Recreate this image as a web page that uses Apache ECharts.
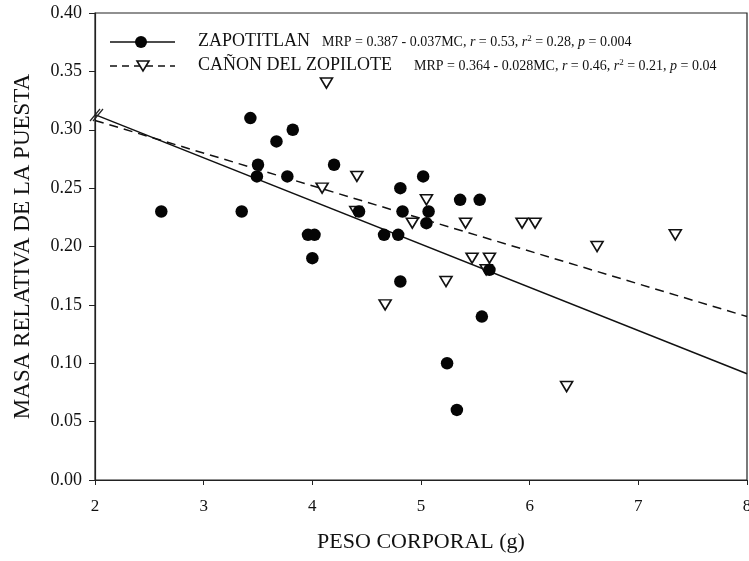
<!DOCTYPE html>
<html>
<head>
<meta charset="utf-8">
<script src="https://cdn.jsdelivr.net/npm/echarts@6/dist/echarts.min.js"></script>
<style>
  html, body { margin: 0; padding: 0; background: #fff; }
  #chart { width: 749px; height: 561px; }
</style>
</head>
<body>
<div id="chart"></div>
<script>
// ---- data ----
var zapX = [2.61, 3.35, 3.43, 3.49, 3.50, 3.67, 3.77, 3.82, 3.96, 4.02, 4.00, 4.20, 4.43, 4.66, 4.79, 4.81, 4.83, 4.81, 5.02, 5.07, 5.05, 5.36, 5.54, 5.63, 5.56, 5.24, 5.33];
var zapY = [0.23, 0.23, 0.31, 0.26, 0.27, 0.29, 0.26, 0.30, 0.21, 0.21, 0.19, 0.27, 0.23, 0.21, 0.21, 0.25, 0.23, 0.17, 0.26, 0.23, 0.22, 0.24, 0.24, 0.18, 0.14, 0.10, 0.06];
var canX = [4.13, 4.09, 4.41, 4.40, 4.92, 5.05, 5.41, 5.93, 6.05, 5.47, 5.63, 5.60, 5.23, 4.67, 6.62, 7.34, 6.34];
var canY = [0.34, 0.25, 0.26, 0.23, 0.22, 0.24, 0.22, 0.22, 0.22, 0.19, 0.19, 0.18, 0.17, 0.15, 0.20, 0.21, 0.08];
var fitX = [2, 8];
var zapFitY = [0.313, 0.091];
var canFitY = [0.308, 0.140];
var xTicks = [2, 3, 4, 5, 6, 7, 8];
var yTicks = ['0.00', '0.05', '0.10', '0.15', '0.20', '0.25', '0.30', '0.35', '0.40'];
var zapName = 'ZAPOTITLAN';
var canName = 'CAÑON DEL ZOPILOTE';
var zapEq = ['MRP = 0.387 - 0.037MC, ', '0.53', '0.28', '0.004'];
var canEq = ['MRP = 0.364 - 0.028MC, ', '0.46', '0.21', '0.04'];

function pairs(xs, ys) { return xs.map(function (x, i) { return [x, ys[i]]; }); }

var serif = '"Liberation Serif", "DejaVu Serif", serif';

function eqRich(eq) {
  return '{e|' + eq[0] + '}{i|r}{e| = ' + eq[1] + ', }{i|r}{s|2}{e| = ' + eq[2] + ', }{i|p}{e| = ' + eq[3] + '}';
}
var eqStyles = {
  e: { fontFamily: serif, fontSize: 14, fill: '#111' },
  i: { fontFamily: serif, fontSize: 14, fontStyle: 'italic', fill: '#111' },
  s: { fontFamily: serif, fontSize: 9, fill: '#111', verticalAlign: 'top', padding: [0, 0, 7, 0] }
};

var chart = echarts.init(document.getElementById('chart'), null, { renderer: 'canvas' });
chart.setOption({
  animation: false,
  backgroundColor: '#fff',
  grid: { left: 95, right: 2, top: 13, bottom: 81, outerBoundsMode: 'none', containLabel: false,
    show: true, borderColor: '#222', borderWidth: 1.2, backgroundColor: 'transparent' },
  xAxis: {
    type: 'value', min: xTicks[0], max: xTicks[xTicks.length - 1], interval: 1,
    name: 'PESO CORPORAL (g)', nameLocation: 'middle', nameGap: 51,
    nameTextStyle: { fontFamily: serif, fontSize: 22, color: '#111' },
    axisLine: { show: true, lineStyle: { color: '#222', width: 1.2 } },
    axisTick: { show: true, length: 5, inside: false, lineStyle: { color: '#222' } },
    axisLabel: { fontFamily: serif, fontSize: 17, color: '#111', margin: 18 },
    splitLine: { show: false }
  },
  yAxis: {
    type: 'value', min: 0, max: 0.4, interval: 0.05,
    name: 'MASA RELATIVA DE LA PUESTA', nameLocation: 'middle', nameGap: 61, nameRotate: 90,
    nameTextStyle: { fontFamily: serif, fontSize: 23, color: '#111' },
    axisLine: { show: true, lineStyle: { color: '#222', width: 1.2 } },
    axisTick: { show: true, length: 6, inside: false, lineStyle: { color: '#222' } },
    axisLabel: { fontFamily: serif, fontSize: 18, color: '#111', margin: 13,
      formatter: function (v) { return yTicks[Math.round(v / 0.05)]; } },
    splitLine: { show: false }
  },
  series: [
    { type: 'line', name: zapName + ' fit', data: pairs(fitX, zapFitY), showSymbol: false, symbol: 'none',
      lineStyle: { color: '#111', width: 1.5, type: 'solid' }, z: 2, silent: true },
    { type: 'line', name: canName + ' fit', data: pairs(fitX, canFitY), showSymbol: false, symbol: 'none',
      lineStyle: { color: '#111', width: 1.5, type: [9, 6] }, z: 2, silent: true },
    { type: 'scatter', name: canName, data: pairs(canX, canY), symbol: 'triangle', symbolRotate: 180,
      symbolSize: [12, 10], itemStyle: { color: '#fff', borderColor: '#111', borderWidth: 1.6, opacity: 1 }, z: 3 },
    { type: 'scatter', name: zapName, data: pairs(zapX, zapY), symbol: 'circle', symbolSize: 12.5,
      itemStyle: { color: '#050505', opacity: 1 }, z: 4 }
  ],
  graphic: [
    // axis break mark on y axis
    { type: 'line', shape: { x1: 90, y1: 121, x2: 100, y2: 109 }, style: { stroke: '#222', lineWidth: 1.2 }, z: 10 },
    { type: 'line', shape: { x1: 93, y1: 121, x2: 103, y2: 109 }, style: { stroke: '#222', lineWidth: 1.2 }, z: 10 },
    // legend row 1
    { type: 'line', shape: { x1: 110, y1: 42, x2: 175, y2: 42 }, style: { stroke: '#111', lineWidth: 1.5 }, z: 10 },
    { type: 'circle', shape: { cx: 141, cy: 42, r: 6 }, style: { fill: '#050505' }, z: 11 },
    { type: 'text', left: 198, top: 32, style: { text: zapName, font: '18px ' + serif, fill: '#111' }, z: 10 },
    { type: 'text', left: 322, top: 34, style: { text: eqRich(zapEq), rich: eqStyles }, z: 10 },
    // legend row 2
    { type: 'line', shape: { x1: 110, y1: 66, x2: 175, y2: 66 }, style: { stroke: '#111', lineWidth: 1.5, lineDash: [7, 5] }, z: 10 },
    { type: 'polygon', shape: { points: [[137, 61], [149, 61], [143, 71]] }, style: { fill: '#fff', stroke: '#111', lineWidth: 1.6 }, z: 11 },
    { type: 'text', left: 198, top: 56, style: { text: canName, font: '18px ' + serif, fill: '#111' }, z: 10 },
    { type: 'text', left: 414, top: 58, style: { text: eqRich(canEq), rich: eqStyles }, z: 10 }
  ]
});
</script>
</body>
</html>
